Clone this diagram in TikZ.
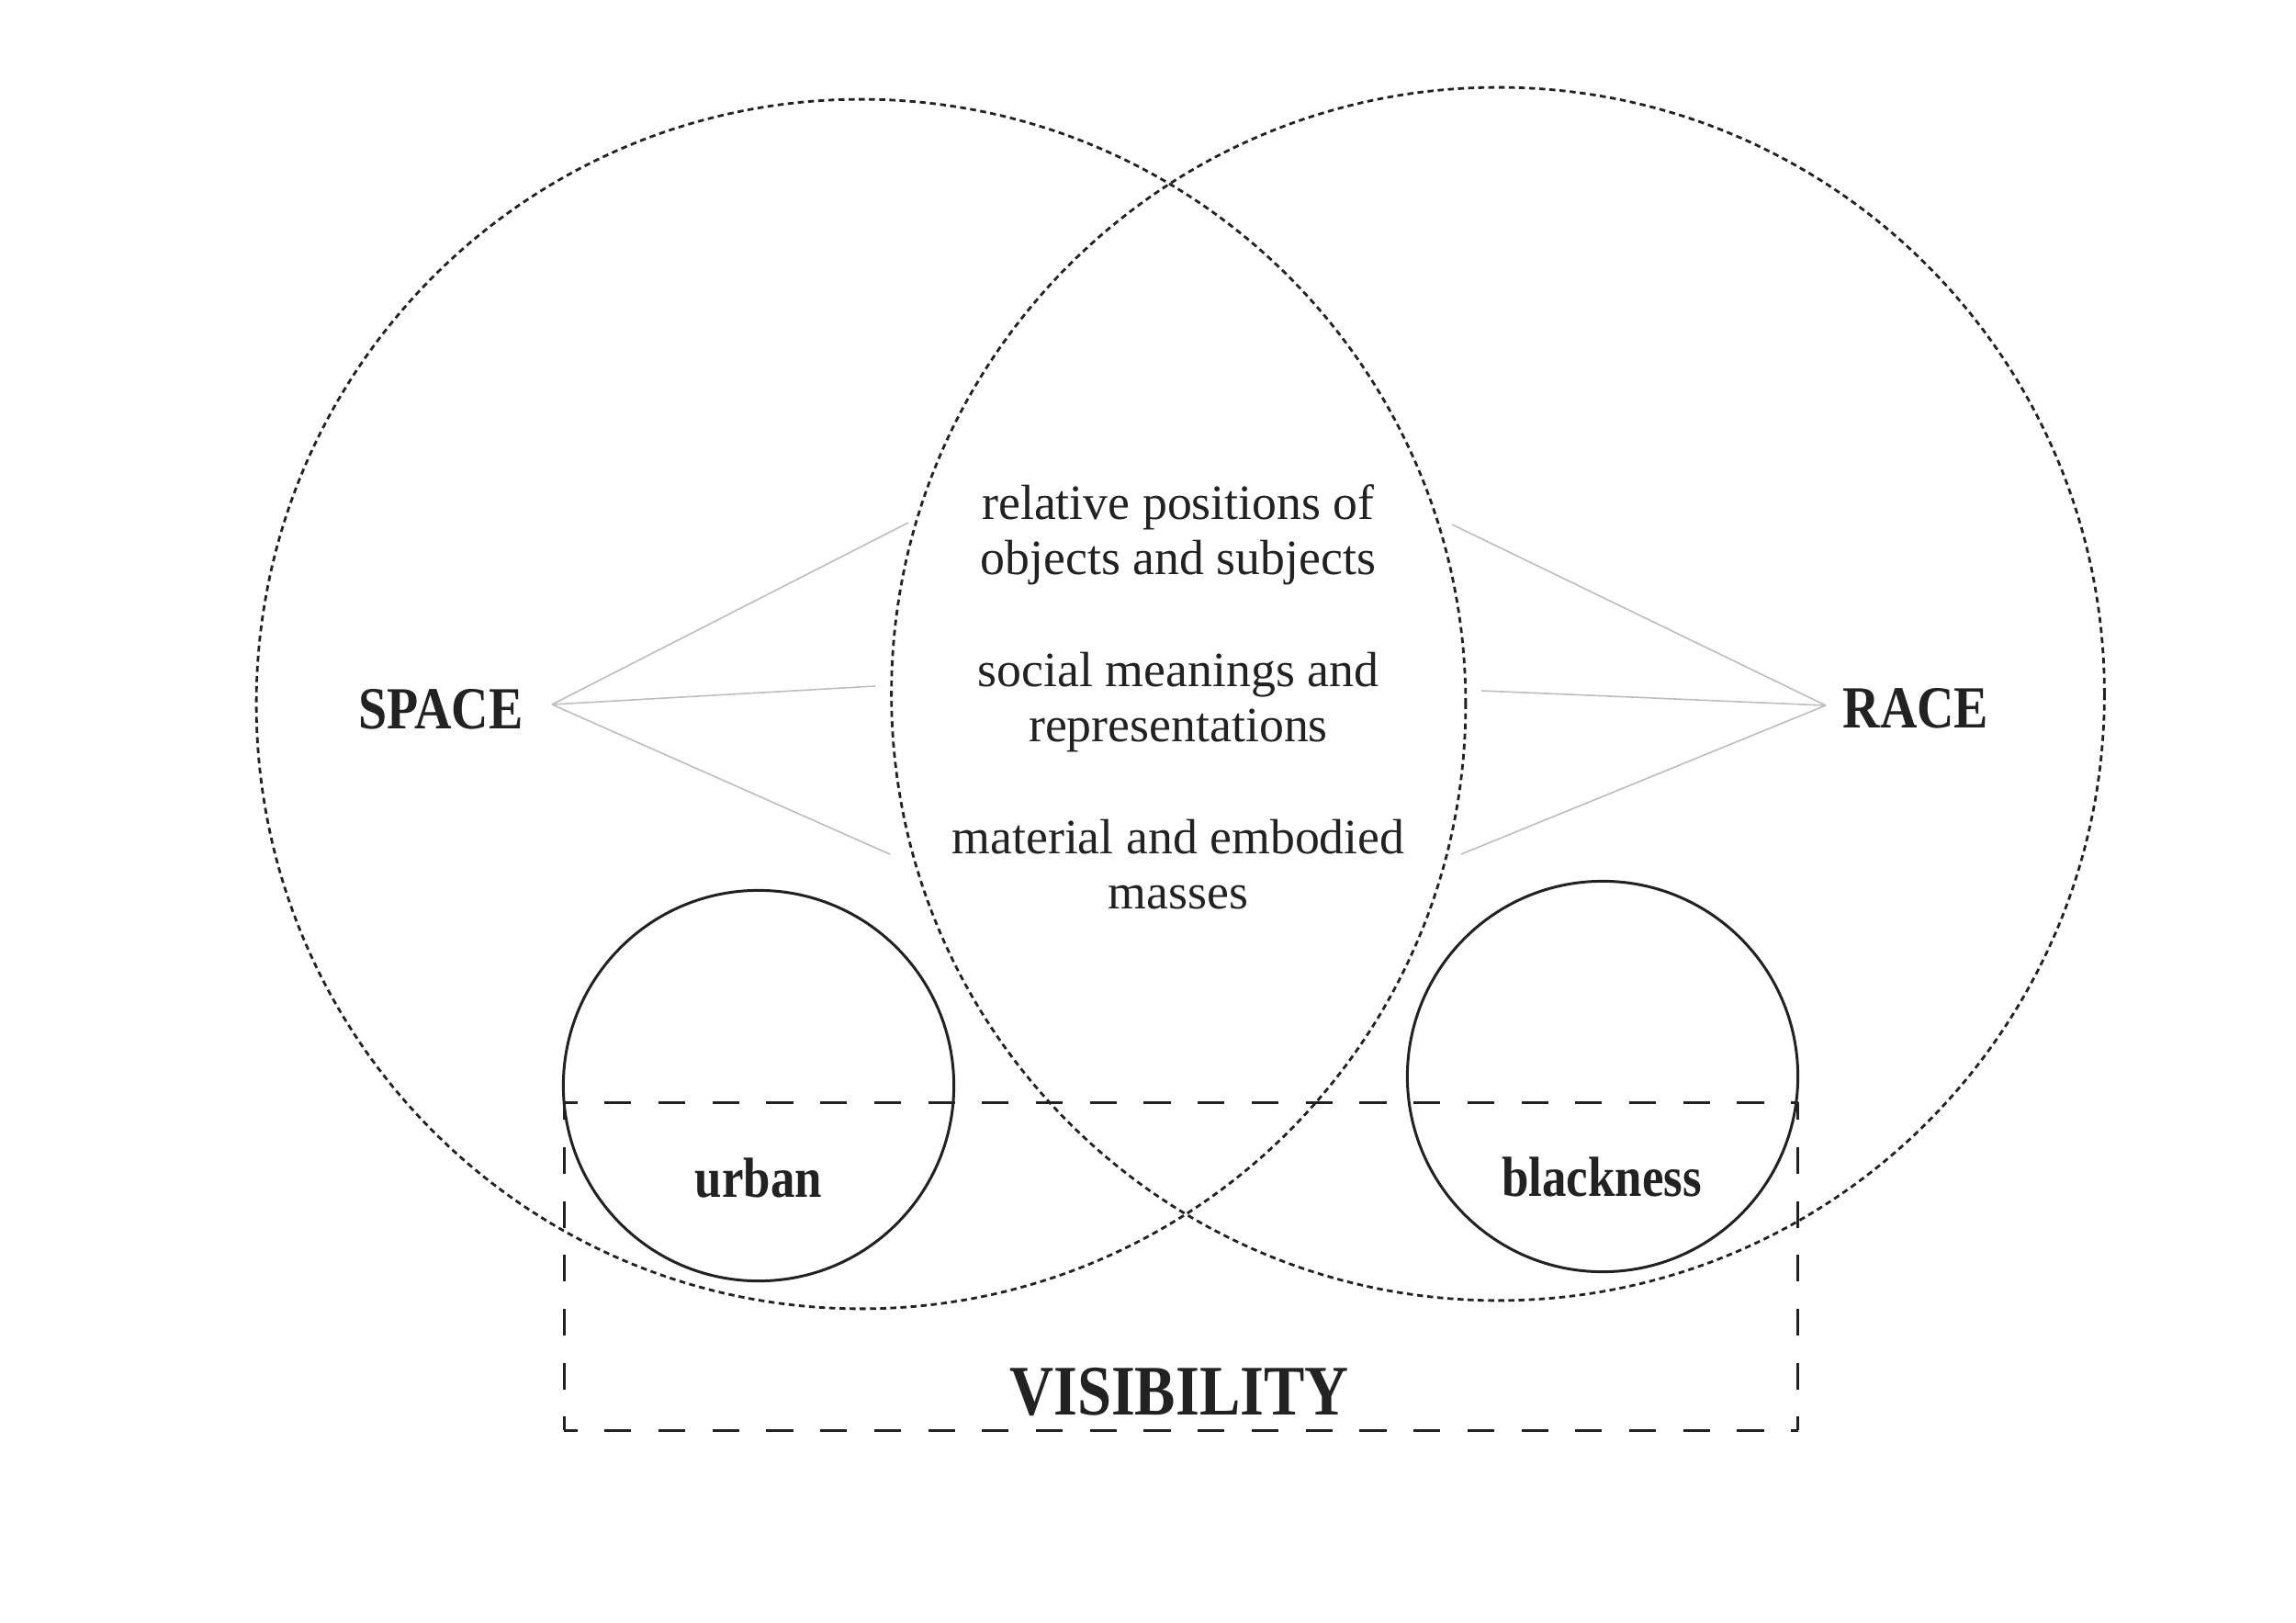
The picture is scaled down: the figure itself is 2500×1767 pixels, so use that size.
\documentclass[tikz,border=0pt]{standalone}
\usepackage{fontspec}
\setmainfont{Liberation Serif}
\newfontfamily\hdfont{Liberation Serif}[FakeStretch=0.86]
\definecolor{ink}{HTML}{222222}
\definecolor{greyline}{HTML}{BDBDBD}
\begin{document}
\begin{tikzpicture}[x=0.01cm,y=-0.01cm,
  bigcirc/.style={circle,draw=ink,line width=0.8pt,dash pattern=on 1.85pt off 1.3pt,inner sep=0pt,outer sep=0pt,minimum size=#1},
  smallcirc/.style={circle,draw=ink,line width=0.85pt,inner sep=0pt,outer sep=0pt,minimum size=4.25cm},
  visline/.style={draw=ink,line width=0.85pt,dash pattern=on 8.3pt off 8.4pt,dash phase=4.15pt},
  spoke/.style={draw=greyline,line width=0.45pt},
  body/.style={font=\fontsize{15.3}{17}\selectfont,text=ink,inner sep=0pt,anchor=base},
  head/.style={font=\hdfont\bfseries\fontsize{18.5}{20}\selectfont,text=ink,inner sep=0pt,anchor=base},
  sub/.style={font=\hdfont\bfseries\fontsize{17.5}{19}\selectfont,text=ink,inner sep=0pt,anchor=base},
  big/.style={font=\hdfont\bfseries\fontsize{22}{24}\selectfont,text=ink,inner sep=0pt,anchor=base}
]
\useasboundingbox (0,0) rectangle (2500,1767);
\fill[white] (0,0) rectangle (2500,1767);

% spokes
\coordinate (sapex) at (601,767);
\coordinate (s1) at (989,569);
\coordinate (s2) at (953,747);
\coordinate (s3) at (969,930);
\coordinate (rapex) at (1988,768);
\coordinate (r1) at (1581,571);
\coordinate (r2) at (1613,752);
\coordinate (r3) at (1591,930);
\draw[spoke] (sapex) -- (s1);
\draw[spoke] (sapex) -- (s2);
\draw[spoke] (sapex) -- (s3);
\draw[spoke] (rapex) -- (r1);
\draw[spoke] (rapex) -- (r2);
\draw[spoke] (rapex) -- (r3);

% big dotted circles
\node[bigcirc=13.16cm] (spacecirc) at (937.5,766.5) {};
\node[bigcirc=13.2cm] (racecirc) at (1631,755.5) {};

% small circles
\node[smallcirc] (urbancirc) at (826,1182) {};
\node[smallcirc] (blackcirc) at (1745,1172) {};

% visibility box
\coordinate (vtl) at (614,1200);
\coordinate (vtr) at (1957.5,1200);
\coordinate (vbl) at (614,1557);
\coordinate (vbr) at (1957.5,1557);
\draw[visline] (vtl) -- (vtr);
\draw[visline] (vbl) -- (vbr);
\draw[visline] (vbl) -- (vtl);
\draw[visline] (vbr) -- (vtr);

% labels
\node[head] (space) at (480,793) {SPACE};
\node[head] (race) at (2086,792) {RACE};
\node[sub] (urban) at (826,1303) {urban};
\node[sub] (blackness) at (1744,1302) {blackness};
\node[big] (visibility) at (1284,1540) {VISIBILITY};

\node[body] (t1a) at (1283,565) {relative positions of};
\node[body] (t1b) at (1283,625) {objects and subjects};
\node[body] (t2a) at (1283,747) {social meanings and};
\node[body] (t2b) at (1283,807) {representations};
\node[body] (t3a) at (1283,929) {material and embodied};
\node[body] (t3b) at (1283,989) {masses};
\end{tikzpicture}
\end{document}
